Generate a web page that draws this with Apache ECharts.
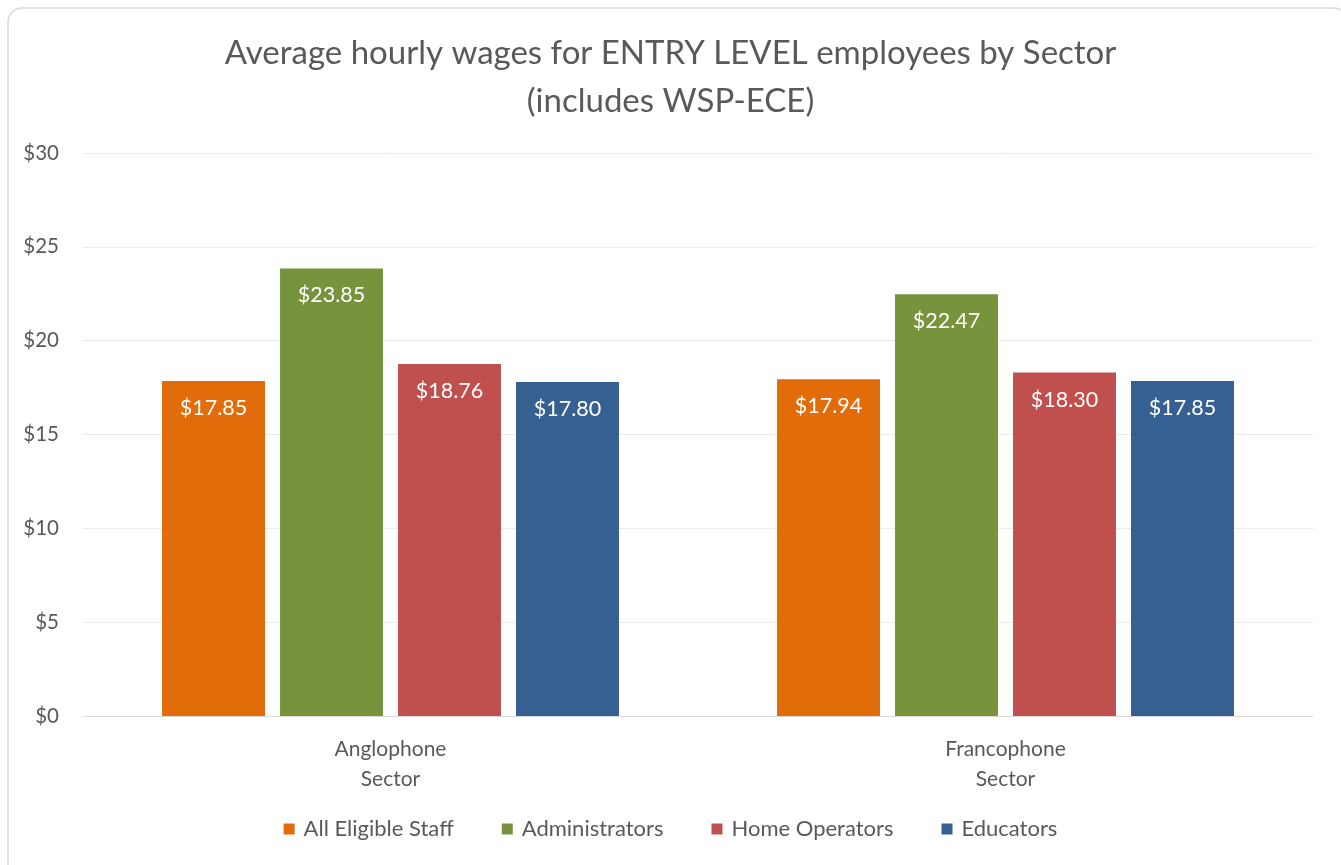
<!DOCTYPE html>
<html>
<head>
<meta charset="utf-8">
<script src="https://cdn.jsdelivr.net/npm/echarts@6/dist/echarts.min.js"></script>
<style>
  html, body { margin: 0; padding: 0; background: #fff; }
  #chart { width: 1341px; height: 865px; }
</style>
</head>
<body>
<div id="chart"></div>
<script>
const sectors = ['Anglophone\nSector', 'Francophone\nSector'];
const seriesNames = ['All Eligible Staff', 'Administrators', 'Home Operators', 'Educators'];
const allEligibleStaff = [17.85, 17.94];
const administrators = [23.85, 22.47];
const homeOperators = [18.76, 18.30];
const educators = [17.80, 17.85];
const colors = ['#E36C0A', '#77933C', '#C0504D', '#366092'];

const fontFamily = 'Lato, "Open Sans", sans-serif';
const seriesData = [allEligibleStaff, administrators, homeOperators, educators];

const myChart = echarts.init(document.getElementById('chart'));
myChart.setOption({
    color: colors,
    graphic: [{
        type: 'rect',
        shape: { x: 8, y: 8, width: 1340, height: 870, r: 14 },
        style: { fill: 'none', stroke: '#d9d9d9', lineWidth: 1.5 },
        silent: true,
    }],
    title: {
        text: 'Average hourly wages for ENTRY LEVEL employees by Sector\n(includes WSP-ECE)',
        left: 'center',
        top: 24,
        textStyle: {
            color: '#595959',
            fontFamily: fontFamily,
            fontSize: 33,
            fontWeight: 'normal',
            lineHeight: 48,
        },
    },
    legend: {
        data: seriesNames,
        bottom: 20,
        left: 'center',
        icon: 'rect',
        itemWidth: 11,
        itemHeight: 11,
        itemGap: 48,
        textStyle: {
            color: '#595959',
            fontFamily: fontFamily,
            fontSize: 22,
            padding: [0, 0, 0, 4],
        },
    },
    grid: {
        left: 83,
        right: 28,
        top: 153,
        bottom: 149,
        containLabel: false,
    },
    xAxis: {
        type: 'category',
        data: sectors,
        axisLine: { lineStyle: { color: '#d9d9d9' } },
        axisTick: { show: false },
        axisLabel: {
            color: '#595959',
            fontFamily: fontFamily,
            fontSize: 21,
            lineHeight: 30,
            margin: 18,
        },
    },
    yAxis: {
        type: 'value',
        min: 0,
        max: 30,
        interval: 5,
        axisLine: { show: false },
        axisTick: { show: false },
        splitLine: { lineStyle: { color: '#ebebeb', width: 1 } },
        axisLabel: {
            color: '#595959',
            fontFamily: fontFamily,
            fontSize: 20.5,
            margin: 24,
            formatter: v => '$' + v,
        },
    },
    series: seriesNames.map((name, i) => ({
        name: name,
        type: 'bar',
        data: seriesData[i],
        barGap: '14.6%',
        barCategoryGap: '25.7%',
        label: {
            show: true,
            position: 'insideTop',
            distance: 16,
            color: '#ffffff',
            fontFamily: fontFamily,
            fontSize: 21.5,
            formatter: p => '$' + p.value.toFixed(2),
        },
    })),
});
window.addEventListener('resize', () => myChart.resize());
</script>
</body>
</html>
